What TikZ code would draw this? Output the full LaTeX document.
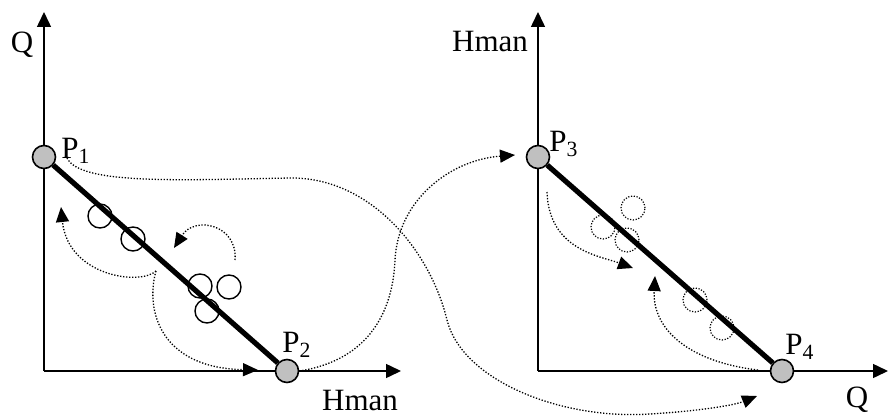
\documentclass[tikz,border=0pt]{standalone}
\usepackage{fontspec}
\setmainfont{Liberation Serif}
\usetikzlibrary{arrows.meta}
\definecolor{grigio}{HTML}{C0C0C0}

\tikzset{
  punto/.style={circle, draw, line width=0.8pt, fill=grigio, minimum size=11.5pt, inner sep=0pt},
  etichetta/.style={inner sep=0pt, font=\fontsize{15.5}{18}\selectfont},
  asse/.style={line width=0.75pt, -{Triangle[length=7.5pt,width=7pt]}},
  retta/.style={line width=2.6pt},
  bolla/.style={circle, draw, line width=0.7pt, minimum size=12pt, inner sep=0pt},
  bollapunt/.style={bolla, line width=0.6pt, dash pattern=on 0.6pt off 0.8pt},
  freccia/.style={line width=0.65pt, dash pattern=on 0.65pt off 0.85pt, -{Triangle[length=7.5pt,width=6.5pt]}},
}

\begin{document}
\begin{tikzpicture}[x=0.5pt, y=-0.5pt]
        \useasboundingbox (0,0) rectangle (889,417);
        % Assi sinistra
        \coordinate (o1) at (44,371);
        \coordinate (y1) at (44,12);
        \coordinate (x1) at (401,371);
        \draw[asse] (o1) -- (y1);
        \draw[asse] (o1) -- (x1);
        % Assi destra
        \coordinate (o2) at (538,371);
        \coordinate (y2) at (538,12);
        \coordinate (x2) at (888,371);
        \draw[asse] (o2) -- (y2);
        \draw[asse] (o2) -- (x2);
        % Punti
        \node[punto] (p1) at (44,157) {};
        \node[punto] (p2) at (287,371) {};
        \node[punto] (p3) at (538,157) {};
        \node[punto] (p4) at (782,371) {};
        \draw[retta] (p1) -- (p2);
        \draw[retta] (p3) -- (p4);
        % Bolle
        \node[bolla] (b1) at (100,216) {};
        \node[bolla] (b2) at (133,239) {};
        \node[bolla] (b3) at (200,286) {};
        \node[bolla] (b4) at (229,287) {};
        \node[bolla] (b5) at (207,311) {};
        \node[bollapunt] (c1) at (633,208) {};
        \node[bollapunt] (c2) at (603,227) {};
        \node[bollapunt] (c3) at (627,240) {};
        \node[bollapunt] (c4) at (695,300) {};
        \node[bollapunt] (c5) at (722,328) {};
        % Frecce tratteggiate sinistra
        \coordinate (s1) at (156,271);
        \coordinate (t1) at (61,207);
        \coordinate (t2) at (258,370);
        \coordinate (s2) at (235,260);
        \coordinate (t3) at (174,248);
        \draw[freccia] (s1) .. controls (140,286) and (68,276) .. (t1);
        \draw[freccia] (s1) .. controls (145,310) and (160,368) .. (t2);
        \draw[freccia] (s2) .. controls (238,225) and (195,215) .. (t3);
        % Frecce tratteggiate destra
        \coordinate (s3) at (547,192);
        \coordinate (t4) at (633,268);
        \coordinate (s4) at (758,370);
        \coordinate (t5) at (655,276);
        \draw[freccia] (s3) .. controls (549,250) and (600,256) .. (t4);
        \draw[freccia] (s4) .. controls (690,362) and (652,330) .. (t5);
        % Frecce lunghe
        \coordinate (s5) at (67,158);
        \coordinate (t6) at (757,396);
        \coordinate (t7) at (515,155);
        \draw[freccia] (s5) .. controls (80,185) and (180,180) .. (290,178)
          .. controls (370,177) and (430,250) .. (447,320)
          .. controls (462,380) and (560,420) .. (650,414)
          .. controls (700,411) and (735,405) .. (t6);
        \draw[freccia] (p2.east) .. controls (370,360) and (393,310) .. (395,260)
          .. controls (398,200) and (450,160) .. (t7);
        % Etichette
        \node[etichetta] (q1) at (22,45) {Q};
        \node[etichetta] (h1) at (360,400) {Hman};
        \node[etichetta] (h2) at (490,42) {Hman};
        \node[etichetta] (q2) at (857,400) {Q};
        \node[etichetta] (l1) at (76,151) {P\textsubscript{1}};
        \node[etichetta] (l2) at (297,345) {P\textsubscript{2}};
        \node[etichetta] (l3) at (564,144) {P\textsubscript{3}};
        \node[etichetta] (l4) at (800,347) {P\textsubscript{4}};
    \end{tikzpicture}
\end{document}
